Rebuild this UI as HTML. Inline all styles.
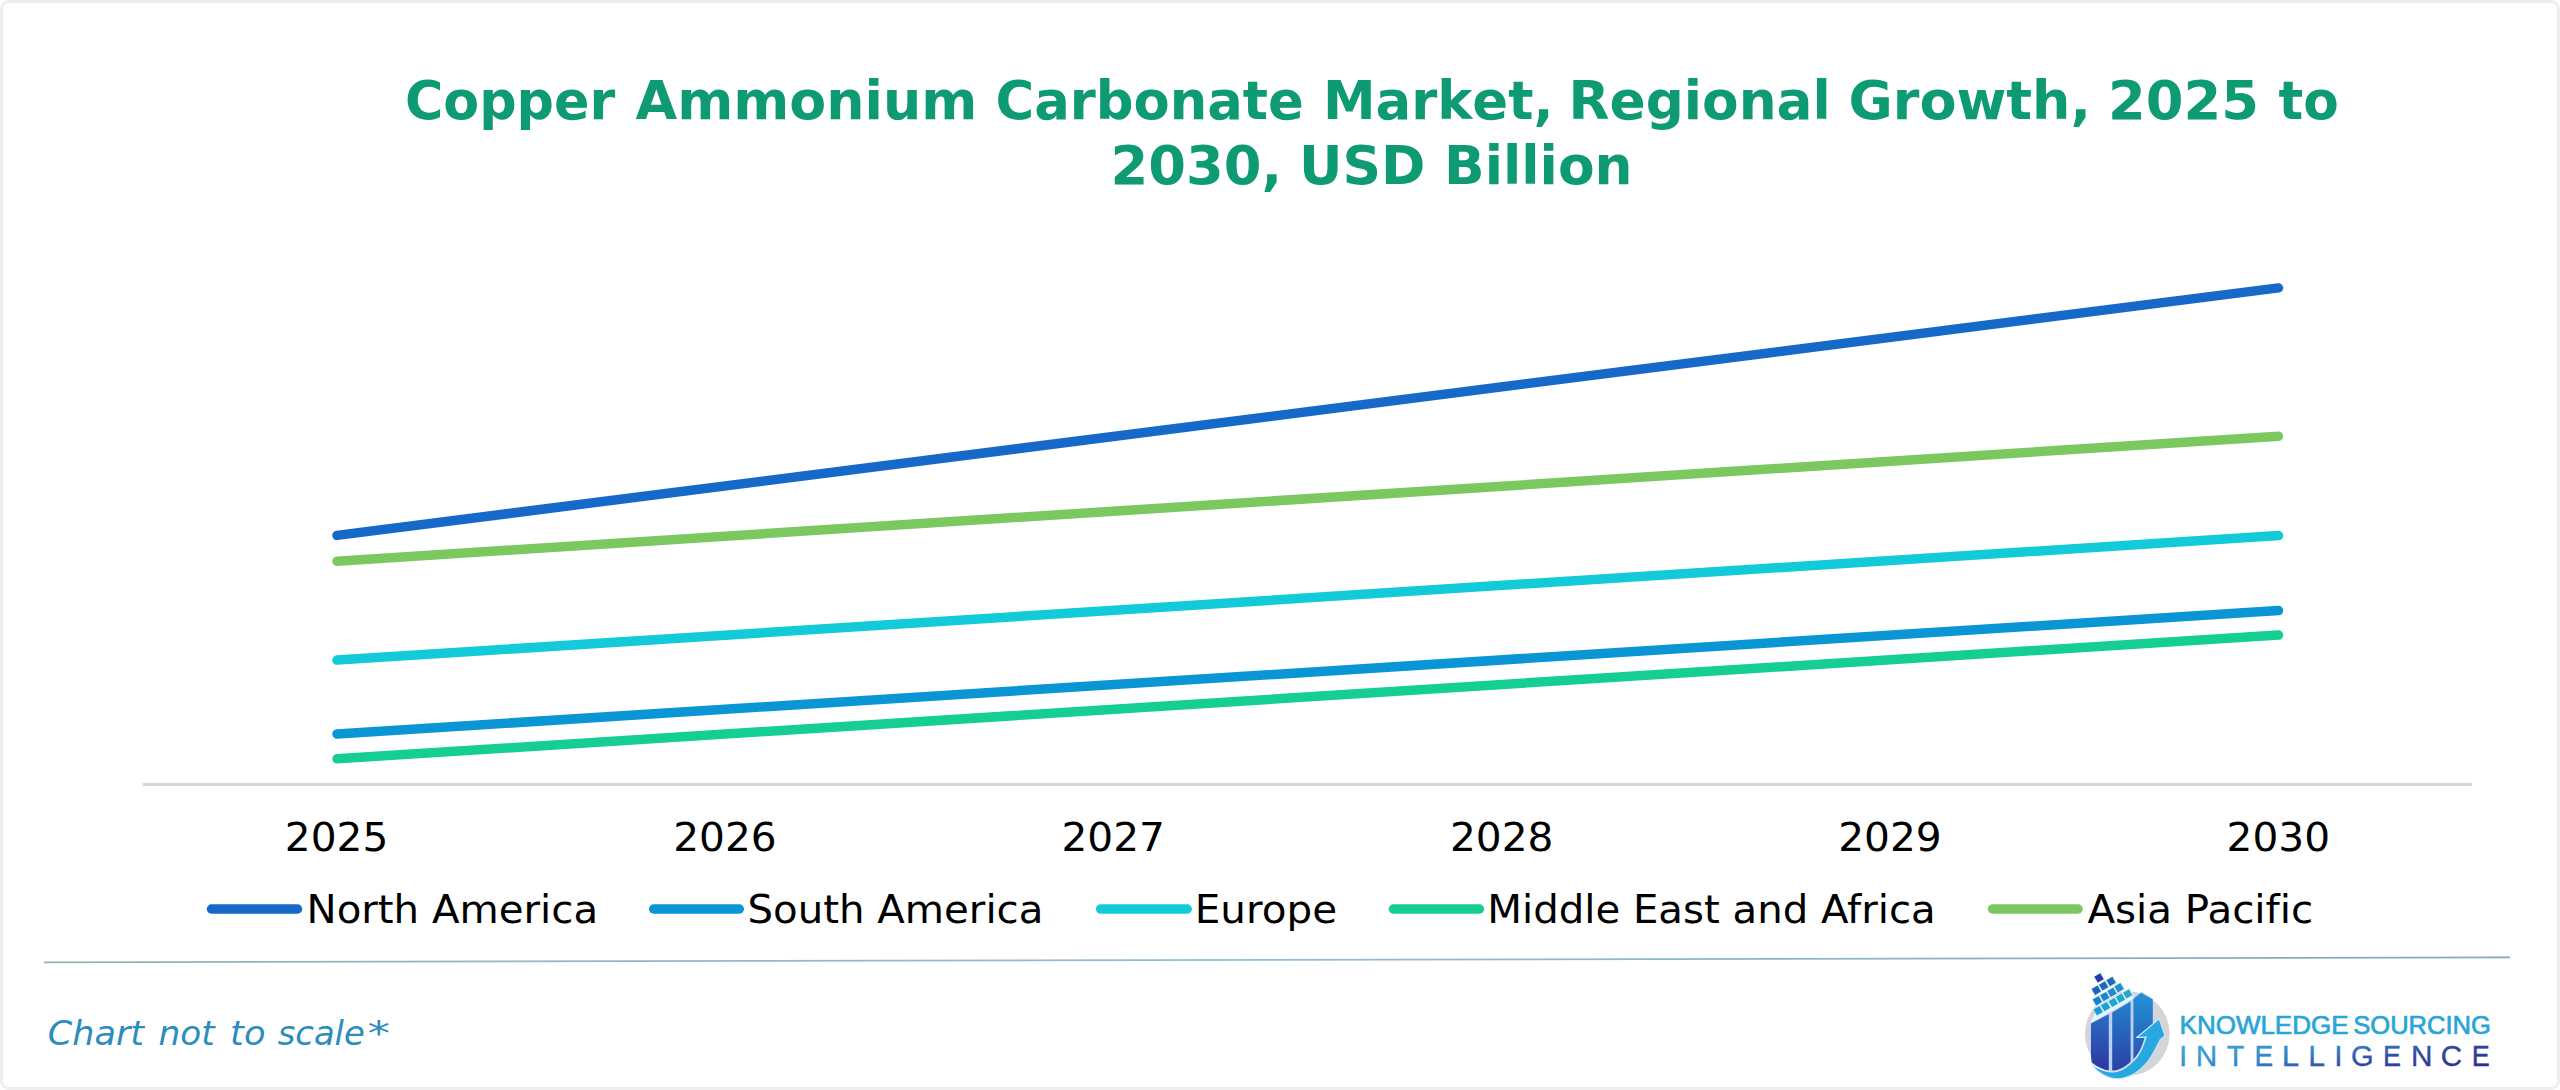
<!DOCTYPE html>
<html lang="en">
<head>
<meta charset="utf-8">
<title>Copper Ammonium Carbonate Market, Regional Growth, 2025 to 2030, USD Billion</title>
<style>
html,body{margin:0;padding:0;background:#fff;}
body{width:2560px;height:1090px;overflow:hidden;position:relative;font-family:"DejaVu Sans","Liberation Sans",sans-serif;}
#frame{position:absolute;left:0;top:0;width:2560px;height:1090px;box-sizing:border-box;border:3px solid #eeeeee;border-radius:9px;}
svg{position:absolute;left:0;top:0;}
.t{font-kerning:none;font-family:"DejaVu Sans","Liberation Sans",sans-serif;font-weight:bold;font-size:54px;fill:#0e9a73;}
.ax{font-variant-ligatures:none;font-feature-settings:"liga" 0,"clig" 0;font-family:"DejaVu Sans","Liberation Sans",sans-serif;font-size:38.7px;fill:#000;}
.note{font-family:"DejaVu Sans","Liberation Sans",sans-serif;font-style:italic;font-size:34px;fill:#2b8cbe;}
.ks{font-family:"Liberation Sans",sans-serif;font-size:25.3px;fill:#2ba5d8;stroke:#2ba5d8;stroke-width:0.7;}
.it{font-family:"Liberation Sans",sans-serif;font-size:30px;fill:url(#gInt);stroke:url(#gInt);stroke-width:0.35;}
.ln{fill:none;stroke-width:9.5;stroke-linecap:round;}
</style>
</head>
<body>
<div id="frame"></div>
<svg width="2560" height="1090" viewBox="0 0 2560 1090">
  <defs>
    <linearGradient id="gBarL" x1="0" y1="1012" x2="0" y2="1072" gradientUnits="userSpaceOnUse">
      <stop offset="0" stop-color="#2a6fc4"/>
      <stop offset="1" stop-color="#2e35a0"/>
    </linearGradient>
    <linearGradient id="gBarM" x1="0" y1="1000" x2="0" y2="1072" gradientUnits="userSpaceOnUse">
      <stop offset="0" stop-color="#2382cf"/>
      <stop offset="1" stop-color="#2b3fa3"/>
    </linearGradient>
    <linearGradient id="gBarR" x1="0" y1="992" x2="0" y2="1066" gradientUnits="userSpaceOnUse">
      <stop offset="0" stop-color="#2293d6"/>
      <stop offset="1" stop-color="#2a4fae"/>
    </linearGradient>
    <linearGradient id="gInt" x1="2182" y1="1045.5" x2="2193.6" y2="1113.5" gradientUnits="userSpaceOnUse">
      <stop offset="0" stop-color="#3cabde"/>
      <stop offset="0.4" stop-color="#2f86c6"/>
      <stop offset="0.7" stop-color="#2e479f"/>
      <stop offset="1" stop-color="#2e2f8f"/>
    </linearGradient>
    <linearGradient id="gDiv" x1="44" y1="0" x2="2510" y2="0" gradientUnits="userSpaceOnUse">
      <stop offset="0" stop-color="#97b0b3"/>
      <stop offset="0.5" stop-color="#93bdd4"/>
      <stop offset="1" stop-color="#84a9b5"/>
    </linearGradient>
  </defs>

  <!-- title -->
  <text class="t" y="118.8"><tspan x="405.0" textLength="210.2" lengthAdjust="spacingAndGlyphs">Copper</tspan> <tspan x="635.5" textLength="341.9" lengthAdjust="spacingAndGlyphs">Ammonium</tspan> <tspan x="995.5" textLength="308.3" lengthAdjust="spacingAndGlyphs">Carbonate</tspan> <tspan x="1323.0" textLength="230.5" lengthAdjust="spacingAndGlyphs">Market,</tspan> <tspan x="1568.5" textLength="262.3" lengthAdjust="spacingAndGlyphs">Regional</tspan> <tspan x="1848.5" textLength="242.5" lengthAdjust="spacingAndGlyphs">Growth,</tspan> <tspan x="2108.0" textLength="151.1" lengthAdjust="spacingAndGlyphs">2025</tspan> <tspan x="2278.5" textLength="60.2" lengthAdjust="spacingAndGlyphs">to</tspan></text>
  <text class="t" y="183.7"><tspan x="1110.5" textLength="171.7" lengthAdjust="spacingAndGlyphs">2030,</tspan> <tspan x="1299.0" textLength="126.5" lengthAdjust="spacingAndGlyphs">USD</tspan> <tspan x="1444.0" textLength="188.6" lengthAdjust="spacingAndGlyphs">Billion</tspan></text>

  <!-- axis -->
  <line x1="142.8" y1="784.4" x2="2472.2" y2="784.4" stroke="#d6d6d6" stroke-width="3"/>

  <!-- series -->
  <line class="ln" x1="337" y1="535.4" x2="2278.5" y2="287.9" stroke="#1669c8"/>
  <line class="ln" x1="337" y1="561.2" x2="2278.5" y2="436.2" stroke="#7bc861"/>
  <line class="ln" x1="337" y1="660.1" x2="2278.5" y2="535.6" stroke="#13cad9"/>
  <line class="ln" x1="337" y1="734" x2="2278.5" y2="610.5" stroke="#0a95d5"/>
  <line class="ln" x1="337" y1="758.8" x2="2278.5" y2="635" stroke="#15ce94"/>

  <!-- x labels -->
  <text class="ax" y="851"><tspan x="284.8" textLength="103.5" lengthAdjust="spacingAndGlyphs">2025</tspan></text>
  <text class="ax" y="851"><tspan x="673.2" textLength="103.5" lengthAdjust="spacingAndGlyphs">2026</tspan></text>
  <text class="ax" y="851"><tspan x="1061.5" textLength="103.5" lengthAdjust="spacingAndGlyphs">2027</tspan></text>
  <text class="ax" y="851"><tspan x="1449.9" textLength="103.5" lengthAdjust="spacingAndGlyphs">2028</tspan></text>
  <text class="ax" y="851"><tspan x="1838.2" textLength="103.5" lengthAdjust="spacingAndGlyphs">2029</tspan></text>
  <text class="ax" y="851"><tspan x="2226.6" textLength="103.5" lengthAdjust="spacingAndGlyphs">2030</tspan></text>

  <!-- legend -->
  <line class="ln" x1="211.5" y1="909" x2="297.5" y2="909" stroke="#1669c8"/>
  <text class="ax" y="923"><tspan x="306.5" textLength="291.6" lengthAdjust="spacingAndGlyphs">North America</tspan></text>
  <line class="ln" x1="653.7" y1="909" x2="739.3" y2="909" stroke="#0a95d5"/>
  <text class="ax" y="923"><tspan x="747.5" textLength="295.9" lengthAdjust="spacingAndGlyphs">South America</tspan></text>
  <line class="ln" x1="1100.6" y1="909" x2="1187.2" y2="909" stroke="#13cad9"/>
  <text class="ax" y="923"><tspan x="1194.8" textLength="142.3" lengthAdjust="spacingAndGlyphs">Europe</tspan></text>
  <line class="ln" x1="1393.4" y1="909" x2="1479.4" y2="909" stroke="#15ce94"/>
  <text class="ax" y="923"><tspan x="1487.3" textLength="448.4" lengthAdjust="spacingAndGlyphs">Middle East and Africa</tspan></text>
  <line class="ln" x1="1992.5" y1="909" x2="2078" y2="909" stroke="#7bc861"/>
  <text class="ax" y="923"><tspan x="2087.4" textLength="225.8" lengthAdjust="spacingAndGlyphs">Asia Pacific</tspan></text>

  <!-- divider -->
  <line x1="44" y1="962.3" x2="2510" y2="957.4" stroke="url(#gDiv)" stroke-width="1.8"/>

  <!-- note -->
  <text class="note" y="1045"><tspan x="47.8" textLength="96.2" lengthAdjust="spacingAndGlyphs">Chart</tspan> <tspan x="158.6" textLength="56.1" lengthAdjust="spacingAndGlyphs">not</tspan> <tspan x="230.1" textLength="35.4" lengthAdjust="spacingAndGlyphs">to</tspan> <tspan x="277.7" textLength="87.1" lengthAdjust="spacingAndGlyphs">scale</tspan><tspan x="367.4" textLength="22.5" lengthAdjust="spacingAndGlyphs">*</tspan></text>
  <!-- logo -->
  <g id="logo">
  <circle cx="2127.3" cy="1033.7" r="42.4" fill="#d5d5d9"/>
  <path d="M2089.6,1024.0 L2095.2,1013.2 L2131.2,992.4 L2134.2,998.6 Z" fill="#e6f8fd"/>
  <clipPath id="hullclip"><path d="M2086,980 L2153.0,980 L2153.0,1023.8 L2137.0,1036.9 L2145.0,1036.4 C2144.4,1038.3 2142.6,1044.4 2141.2,1047.6 C2139.8,1050.8 2138.4,1053.2 2136.4,1055.8 C2134.4,1058.4 2131.6,1061.1 2129.0,1063.2 C2126.4,1065.3 2123.6,1067.4 2120.9,1068.6 C2118.2,1069.8 2115.8,1070.5 2113.0,1070.6 C2110.2,1070.7 2107.0,1070.1 2104.4,1069.4 C2101.8,1068.7 2099.7,1067.7 2097.6,1066.6 C2095.5,1065.5 2092.8,1063.3 2091.8,1062.6 L2090.9,1056 L2086,1040 Z"/></clipPath>
  <g clip-path="url(#hullclip)">
  <path d="M2090.2,1023.2 L2109.6,1013.0 L2131.4,1000.0 L2141.1,991.8 L2153.6,999.0 L2153.6,1082 L2090.2,1082 Z" fill="#bcd0f6"/>
  <path d="M2091.0,1023.4 L2108.8,1014.2 L2108.8,1082 L2091.0,1082 Z" fill="url(#gBarL)"/>
  <path d="M2112.2,1012.5 L2130.6,1001.6 L2130.6,1082 L2112.2,1082 Z" fill="url(#gBarM)"/>
  <path d="M2133.4,998.8 L2141.1,992.8 L2152.8,999.4 L2152.8,1082 L2133.4,1082 Z" fill="url(#gBarR)"/>
  </g>
  <path d="M2092.0,1064.4 C2092.9,1065.4 2094.6,1068.5 2097.2,1070.6 C2099.8,1072.7 2104.4,1075.4 2107.5,1076.8 C2110.6,1078.2 2112.9,1078.6 2115.8,1078.8 C2118.7,1079.0 2121.5,1078.7 2124.7,1077.8 C2127.9,1076.9 2131.6,1075.5 2135.1,1073.3 C2138.6,1071.1 2142.5,1067.5 2145.4,1064.4 C2148.3,1061.3 2150.2,1058.0 2152.3,1054.7 C2154.4,1051.4 2156.5,1046.9 2157.8,1044.4 C2159.1,1041.9 2159.8,1040.4 2160.2,1039.6 L2165.0,1035.8 L2159.1,1018.9 L2136.8,1037.5 L2146.1,1037.2 C2145.4,1039.1 2143.4,1045.2 2141.9,1048.5 C2140.4,1051.8 2139.2,1054.1 2137.1,1056.8 C2135.0,1059.5 2132.2,1062.2 2129.6,1064.4 C2127.0,1066.6 2124.1,1068.7 2121.3,1069.9 C2118.5,1071.2 2115.9,1071.8 2113.0,1071.9 C2110.1,1072.0 2106.7,1071.3 2104.1,1070.6 C2101.5,1069.9 2099.2,1068.8 2097.2,1067.8 C2095.2,1066.8 2092.9,1065.0 2092.0,1064.4 Z" fill="#27a8e1" stroke="#cfe6fb" stroke-width="1.1" stroke-linejoin="miter"/>
  <rect x="-4.1" y="-4.1" width="8.6" height="8.6" fill="#d4f3fc" transform="translate(2098.2,1010.7) rotate(-30)"/>
  <rect x="-4.1" y="-4.1" width="8.6" height="8.6" fill="#d4f3fc" transform="translate(2105.6,1006.6) rotate(-30)"/>
  <rect x="-4.1" y="-4.1" width="8.6" height="8.6" fill="#d4f3fc" transform="translate(2113.3,1002.4) rotate(-30)"/>
  <rect x="-4.1" y="-4.1" width="8.6" height="8.6" fill="#d4f3fc" transform="translate(2120.5,998.3) rotate(-30)"/>
  <rect x="-4.1" y="-4.1" width="8.6" height="8.6" fill="#d4f3fc" transform="translate(2127.7,993.9) rotate(-30)"/>
  <rect x="-4.1" y="-4.1" width="8.6" height="8.6" fill="#d4f3fc" transform="translate(2097.4,1000.8) rotate(-30)"/>
  <rect x="-4.1" y="-4.1" width="8.6" height="8.6" fill="#d4f3fc" transform="translate(2104.8,996.6) rotate(-30)"/>
  <rect x="-4.1" y="-4.1" width="8.6" height="8.6" fill="#d4f3fc" transform="translate(2112.0,992.2) rotate(-30)"/>
  <rect x="-4.1" y="-4.1" width="8.6" height="8.6" fill="#d4f3fc" transform="translate(2119.1,987.8) rotate(-30)"/>
  <rect x="-4.1" y="-4.1" width="8.6" height="8.6" fill="#d4f3fc" transform="translate(2096.3,990.3) rotate(-30)"/>
  <rect x="-4.1" y="-4.1" width="8.6" height="8.6" fill="#d4f3fc" transform="translate(2103.7,985.9) rotate(-30)"/>
  <rect x="-4.1" y="-4.1" width="8.6" height="8.6" fill="#d4f3fc" transform="translate(2111.1,981.5) rotate(-30)"/>
  <rect x="-4.1" y="-4.1" width="8.6" height="8.6" fill="#d4f3fc" transform="translate(2099.0,977.9) rotate(-30)"/>
  <rect x="-3.45" y="-3.45" width="6.9" height="6.9" fill="#1d9bd6" transform="translate(2098.2,1010.7) rotate(-30)"/>
  <rect x="-3.45" y="-3.45" width="6.9" height="6.9" fill="#1f9fd5" transform="translate(2105.6,1006.6) rotate(-30)"/>
  <rect x="-3.45" y="-3.45" width="6.9" height="6.9" fill="#22a3d2" transform="translate(2113.3,1002.4) rotate(-30)"/>
  <rect x="-3.45" y="-3.45" width="6.9" height="6.9" fill="#25a7cd" transform="translate(2120.5,998.3) rotate(-30)"/>
  <rect x="-3.45" y="-3.45" width="6.9" height="6.9" fill="#28aac6" transform="translate(2127.7,993.9) rotate(-30)"/>
  <rect x="-3.45" y="-3.45" width="6.9" height="6.9" fill="#1f7fcb" transform="translate(2097.4,1000.8) rotate(-30)"/>
  <rect x="-3.45" y="-3.45" width="6.9" height="6.9" fill="#2183cc" transform="translate(2104.8,996.6) rotate(-30)"/>
  <rect x="-3.45" y="-3.45" width="6.9" height="6.9" fill="#2388cc" transform="translate(2112.0,992.2) rotate(-30)"/>
  <rect x="-3.45" y="-3.45" width="6.9" height="6.9" fill="#258dcb" transform="translate(2119.1,987.8) rotate(-30)"/>
  <rect x="-3.45" y="-3.45" width="6.9" height="6.9" fill="#2462b9" transform="translate(2096.3,990.3) rotate(-30)"/>
  <rect x="-3.45" y="-3.45" width="6.9" height="6.9" fill="#2566b9" transform="translate(2103.7,985.9) rotate(-30)"/>
  <rect x="-3.45" y="-3.45" width="6.9" height="6.9" fill="#2769b6" transform="translate(2111.1,981.5) rotate(-30)"/>
  <rect x="-3.45" y="-3.45" width="6.9" height="6.9" fill="#2a3aa8" transform="translate(2099.0,977.9) rotate(-30)"/>
  </g>
  <text class="ks" y="1034.0"><tspan x="2179.6" textLength="168.9" lengthAdjust="spacingAndGlyphs">KNOWLEDGE</tspan> <tspan x="2353.3" textLength="137.6" lengthAdjust="spacingAndGlyphs">SOURCING</tspan></text>
  <text class="it" y="1066.3"><tspan x="2179.1" textLength="8.3" lengthAdjust="spacingAndGlyphs">I</tspan><tspan x="2195.7" textLength="21.5" lengthAdjust="spacingAndGlyphs">N</tspan><tspan x="2226.7" textLength="17.6" lengthAdjust="spacingAndGlyphs">T</tspan><tspan x="2254.4" textLength="18.7" lengthAdjust="spacingAndGlyphs">E</tspan><tspan x="2281.8" textLength="17.4" lengthAdjust="spacingAndGlyphs">L</tspan><tspan x="2308.2" textLength="16.8" lengthAdjust="spacingAndGlyphs">L</tspan><tspan x="2334.2" textLength="8.3" lengthAdjust="spacingAndGlyphs">I</tspan><tspan x="2351.1" textLength="22.6" lengthAdjust="spacingAndGlyphs">G</tspan><tspan x="2382.9" textLength="18.0" lengthAdjust="spacingAndGlyphs">E</tspan><tspan x="2410.9" textLength="21.5" lengthAdjust="spacingAndGlyphs">N</tspan><tspan x="2440.8" textLength="21.3" lengthAdjust="spacingAndGlyphs">C</tspan><tspan x="2471.7" textLength="18.0" lengthAdjust="spacingAndGlyphs">E</tspan></text>
</svg>
</body>
</html>
